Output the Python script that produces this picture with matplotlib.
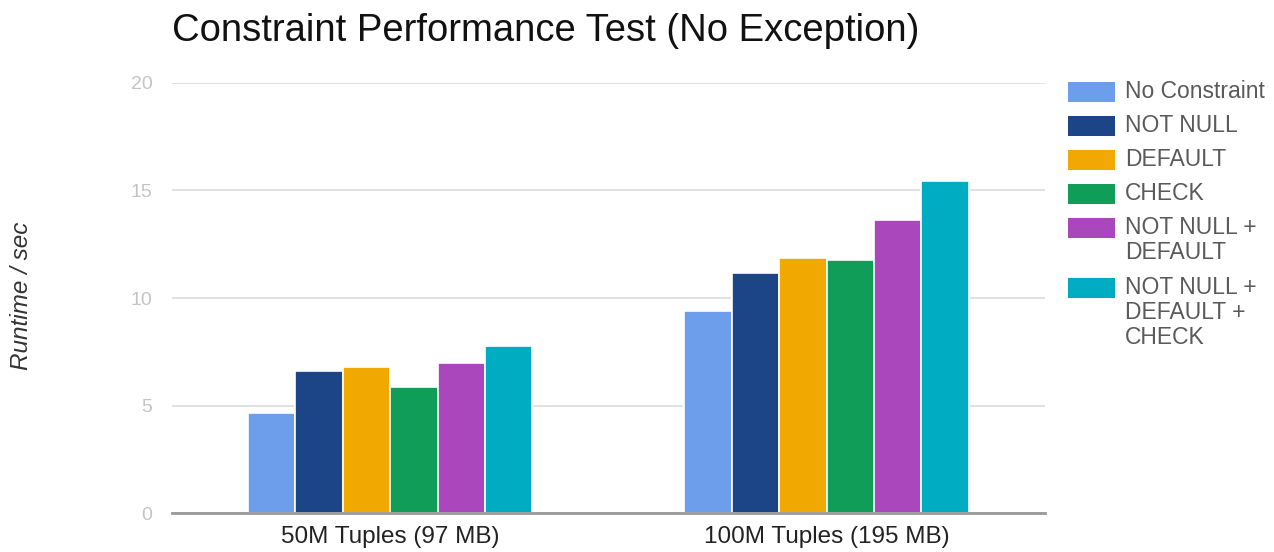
import numpy as np
import matplotlib
matplotlib.use("Agg")
import matplotlib.pyplot as plt
from matplotlib.patches import Rectangle

plt.rcParams["font.family"] = ["Liberation Sans", "DejaVu Sans"]

groups = ["50M Tuples (97 MB)", "100M Tuples (195 MB)"]
series = ["No Constraint", "NOT NULL", "DEFAULT", "CHECK",
          "NOT NULL +\nDEFAULT", "NOT NULL +\nDEFAULT +\nCHECK"]
values = [
    [4.67, 9.41],
    [6.61, 11.15],
    [6.78, 11.86],
    [5.88, 11.78],
    [6.97, 13.62],
    [7.76, 15.45],
]
colors = ["#6d9eeb", "#1c4587", "#f1a800", "#0f9d58", "#ab47bc", "#00acc1"]
yticks = [0, 5, 10, 15, 20]

fig = plt.figure(figsize=(12.74, 5.52), dpi=100)
ax = fig.add_axes([0.135, 0.0701, 0.685, 0.780])

x = np.arange(len(groups))
group_w = 0.652
bar_w = group_w / len(series)
for i, (vals, c) in enumerate(zip(values, colors)):
    offs = -group_w / 2 + bar_w * (i + 0.5)
    ax.bar(x + offs, vals, width=bar_w, color=c, edgecolor="white",
           linewidth=1.2, zorder=3)

ax.set_xlim(-0.5, 1.5)
ax.set_ylim(0, 20)
ax.set_yticks(yticks)
ax.set_yticklabels([str(t) for t in yticks])
ax.set_xticks(x)
ax.set_xticklabels(groups)
ax.grid(axis="y", color="#dcdcdc", linewidth=1.2, zorder=0)
for s in ["top", "right", "left"]:
    ax.spines[s].set_visible(False)
ax.spines["bottom"].set_color("#999999")
ax.spines["bottom"].set_linewidth(2)
ax.spines["bottom"].set_zorder(4)
ax.tick_params(axis="y", length=0, pad=14, labelsize=14, labelcolor="#c4c4c4")
ax.tick_params(axis="x", length=0, pad=9, labelsize=17.5, labelcolor="#222222")

fig.text(22 / 1274, 1 - 296 / 552, "Runtime / sec", rotation=90, style="italic",
         fontsize=17.5, color="#333333", ha="center", va="center")
fig.text(172 / 1274, 1 - 41 / 552, "Constraint Performance Test (No Exception)",
         fontsize=27.5, color="#111111", ha="left", va="baseline")

# legend drawn by hand so the swatch lines up with the first text line
y_px = 92
for lab, c in zip(series, colors):
    fig.patches.append(Rectangle((1068 / 1274, 1 - (y_px + 10) / 552),
                                 47 / 1274, 20 / 552, transform=fig.transFigure,
                                 facecolor=c, edgecolor="none"))
    fig.text(1125 / 1274, 1 - (y_px - 12) / 552, lab, fontsize=16.5, color="#5a5a5a",
             ha="left", va="top", linespacing=1.1)
    y_px += 34 + 26 * lab.count("\n")

fig.savefig("out.png", dpi=100)
